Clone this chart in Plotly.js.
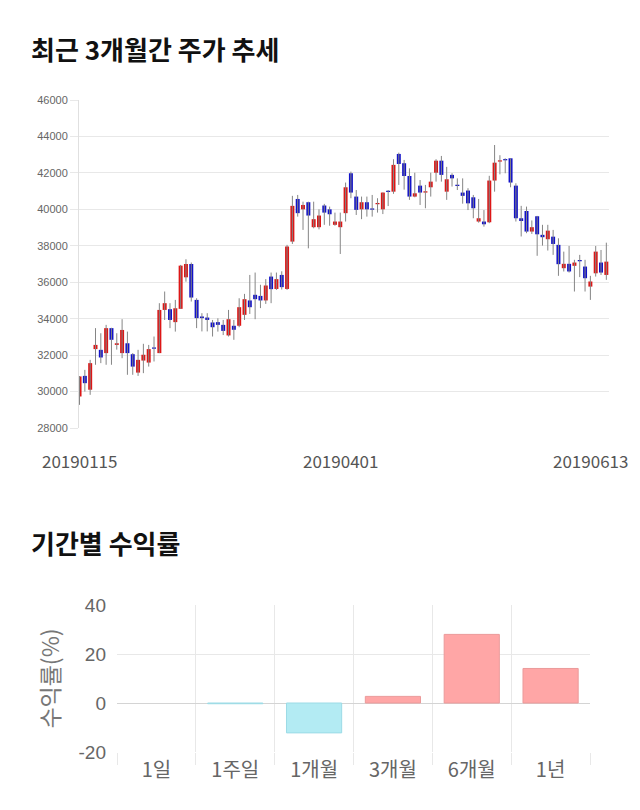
<!DOCTYPE html>
<html>
<head>
<meta charset="utf-8">
<script src="https://cdn.plot.ly/plotly-3.0.1.min.js"></script>
<style>html,body{margin:0;padding:0;background:#fff;}#chart{width:640px;height:810px;}</style>
</head>
<body>
<div id="chart"></div>
<script>
// ---- Stock chart data (last 3 months) ----
const dates = [
  "20190115","20190116","20190117","20190118","20190121","20190122","20190123","20190124","20190125","20190128","20190129","20190130","20190131",
  "20190201","20190207","20190208","20190211","20190212","20190213","20190214","20190215","20190218","20190219","20190220","20190221","20190222","20190225","20190226","20190227","20190228",
  "20190304","20190305","20190306","20190307","20190308","20190311","20190312","20190313","20190314","20190315","20190318","20190319","20190320","20190321","20190322","20190325","20190326","20190327","20190328","20190329",
  "20190401","20190402","20190403","20190404","20190405","20190408","20190409","20190410","20190411","20190412","20190415","20190416","20190417","20190418","20190419","20190422","20190423","20190424","20190425","20190426","20190429","20190430",
  "20190502","20190503","20190507","20190508","20190509","20190510","20190513","20190514","20190515","20190516","20190517","20190520","20190521","20190522","20190523","20190524","20190527","20190528","20190529","20190530","20190531",
  "20190603","20190604","20190605","20190607","20190610","20190611","20190612"
];
const openP = [
  29730,30860,30100,32330,32290,32110,33480,32560,32110,32650,32050,31040,31700,
  31590,32400,32110,34480,34520,33810,34540,36270,37000,35030,34120,34060,33790,33810,33660,33080,33610,
  33610,34210,35000,35310,35250,35000,36310,35630,36400,35630,38230,40570,40000,40390,39020,39020,40210,40000,39150,39020,
  39790,41980,40700,40000,40390,40020,40280,40000,41000,40970,43040,42530,41830,40700,41300,40920,41210,42010,42670,40970,41890,41330,
  40920,41030,40660,39330,39330,39290,41580,42620,42730,42800,41300,39510,39910,38780,39620,38600,38360,38500,38050,36770,37010,
  36900,37200,36860,35760,36490,37080,36400
];
const highP = [
  30850,31190,31740,33480,33200,33660,33500,33200,33970,33290,32110,32290,32620,
  32560,33020,34850,35490,34850,35030,36950,37260,37080,35120,34300,34300,33930,34020,33930,34480,33930,
  35120,35360,36400,36530,35860,36170,36530,36530,36600,38050,40740,40790,40420,40420,40420,40000,40300,40150,39820,39820,
  41470,42070,41060,40700,40700,40790,40610,40920,41060,42750,43110,42710,42250,42010,41610,41340,42010,42750,42930,42330,41980,41700,
  41700,41160,40790,40570,39960,41840,43530,42970,42800,42800,41430,40190,40150,39390,39640,39150,39150,38870,38410,37680,37990,
  37230,37500,37230,36350,37990,37770,38170
];
const lowP = [
  29270,30000,29820,31470,31560,31470,31470,32300,31830,30920,30920,30860,31010,
  31370,31650,32110,33930,33480,33290,34540,36030,34940,33480,33300,33300,33020,33290,33100,33020,32840,
  33530,33930,34260,33970,34580,34810,34850,35580,35600,35580,38100,39600,38870,37860,38960,38900,39150,39100,39100,37550,
  39330,40610,39690,39460,39600,39600,39820,39740,40180,40850,41340,41080,40520,40660,40240,40060,40700,41520,41520,40520,41250,41060,
  40310,39960,39510,39270,39050,39240,40970,41920,41980,41210,39330,38510,38690,38650,37450,38010,37740,37500,36350,36590,36530,
  35490,36280,35490,35030,36310,36400,36130
];
const closeP = [
  30830,30460,31560,32560,31870,33480,32840,32650,33380,32110,31370,31740,32020,
  32330,32350,34480,34850,33930,34570,36910,37000,35160,34030,34030,33930,33530,33660,33330,33970,33390,
  34630,35070,34630,35070,35000,35820,35620,36170,35730,37960,40190,39790,40240,39660,39460,39660,39820,39730,39330,39330,
  41210,40920,39970,40390,40000,39980,40320,40920,40950,42440,42490,41830,40700,40880,40920,40970,41520,42670,41890,41650,41700,41280,
  40740,40330,40060,39510,39180,41580,42560,42680,42690,41470,39510,39360,38780,39020,38630,38470,38830,38100,36990,37010,36590,
  37080,37150,36220,36040,37680,36530,37130
];
const stockTickLabels = ["20190115", "20190401", "20190613"];

// ---- Period returns data ----
const periods = ["1일", "1주일", "1개월", "3개월", "6개월", "1년"];
const returns = [0, -0.3, -12.2, 2.7, 28.0, 14.1];
const returnTickVals = [-20, 0, 20, 40];
const returnTickText = ["-20", "0", "20", "40"];

// ---- Build traces ----
const wickX = [], wickY = [];
dates.forEach((d, i) => { wickX.push(d, d, null); wickY.push(lowP[i], highP[i], null); });

const bodyBase = openP.map((o, i) => Math.min(o, closeP[i]));
const bodyLen = openP.map((o, i) => Math.max(Math.abs(closeP[i] - o), 70));
const bodyColor = openP.map((o, i) => closeP[i] >= o ? "#dd1616" : "#1212c8");

const W = 640, H = 810;
const px = v => v / W;
const py = v => 1 - v / H;

const traces = [
  { type: "scatter", mode: "lines", x: wickX, y: wickY, xaxis: "x", yaxis: "y",
    line: { color: "#858585", width: 1 }, hoverinfo: "skip", connectgaps: false },
  { type: "bar", x: dates, y: bodyLen, base: bodyBase, xaxis: "x", yaxis: "y", width: 0.75,
    marker: { color: bodyColor, line: { width: 0 } } },
  { type: "bar", x: periods, y: returns, xaxis: "x2", yaxis: "y2", width: 0.7,
    marker: { color: returns.map(v => v >= 0 ? "#ffa6a6" : "#b3ebf3"),
              line: { color: returns.map(v => v === 0 ? "rgba(0,0,0,0)" : (v > 0 ? "#eb9a9a" : "#9cdbe6")), width: 1 } } }
];

const grid = "#e8e8e8";
const layout = {
  width: W, height: H,
  margin: { l: 0, r: 0, t: 0, b: 0 },
  paper_bgcolor: "#fff", plot_bgcolor: "#fff",
  showlegend: false,
  font: { family: "Noto Sans CJK KR, sans-serif", color: "#666" },
  xaxis: {
    type: "category", domain: [px(79), px(609)], range: [-0.1, 99.5],
    showticklabels: false, ticks: "", showgrid: false, zeroline: false,
    showline: false, anchor: "y"
  },
  yaxis: {
    domain: [py(428), py(100)], range: [28000, 46000], dtick: 2000, tickformat: "d",
    gridcolor: grid, gridwidth: 1, zeroline: false,
    showline: true, linecolor: "#e0e0e0", linewidth: 1,
    ticks: "outside", ticklen: 8, tickcolor: grid,
    tickfont: { family: "Liberation Sans, Arial, sans-serif", size: 11, color: "#666" },
    anchor: "x"
  },
  xaxis2: {
    type: "category", domain: [px(117), px(590)], range: [-0.5, 5.5],
    tickson: "boundaries", ticks: "outside", ticklen: 12, tickcolor: grid,
    ticklabelstandoff: 4,
    showgrid: true, gridcolor: grid, zeroline: false, showline: false,
    tickfont: { family: "Noto Sans CJK KR, sans-serif", size: 20, color: "#666" },
    anchor: "y2"
  },
  yaxis2: {
    domain: [py(752), py(605)], range: [-20, 40],
    tickvals: returnTickVals, ticktext: returnTickText,
    gridcolor: grid, zeroline: true, zerolinecolor: "#d4d4d4", zerolinewidth: 1,
    ticks: "", showline: false, ticklabelstandoff: 10,
    tickfont: { family: "Liberation Sans, Arial, sans-serif", size: 19, color: "#666" },
    title: { text: "수익률(%)", font: { family: "Noto Sans CJK KR, sans-serif", size: 23, color: "#777" }, standoff: 12 },
    anchor: "x2"
  },
  annotations: [
    { text: "<b>최근 3개월간 주가 추세</b>", xref: "paper", yref: "paper", x: px(29), y: py(49),
      xanchor: "left", yanchor: "middle", showarrow: false,
      font: { family: "Noto Sans CJK KR, sans-serif", size: 26, color: "#111" } },
    { text: "<b>기간별 수익률</b>", xref: "paper", yref: "paper", x: px(29), y: py(542),
      xanchor: "left", yanchor: "middle", showarrow: false,
      font: { family: "Noto Sans CJK KR, sans-serif", size: 26, color: "#111" } },
    { text: stockTickLabels[0], xref: "x", yref: "paper", x: 0, y: py(460),
      xanchor: "center", yanchor: "middle", showarrow: false,
      font: { family: "Noto Sans CJK KR, sans-serif", size: 17, color: "#555" } },
    { text: stockTickLabels[1], xref: "x", yref: "paper", x: 50, xshift: -5, y: py(460),
      xanchor: "center", yanchor: "middle", showarrow: false,
      font: { family: "Noto Sans CJK KR, sans-serif", size: 17, color: "#555" } },
    { text: stockTickLabels[2], xref: "paper", yref: "paper", x: 1, xshift: -10, y: py(460),
      xanchor: "right", yanchor: "middle", showarrow: false,
      font: { family: "Noto Sans CJK KR, sans-serif", size: 17, color: "#555" } }
  ]
};

Plotly.newPlot("chart", traces, layout, { staticPlot: true, displayModeBar: false });
</script>
</body>
</html>
